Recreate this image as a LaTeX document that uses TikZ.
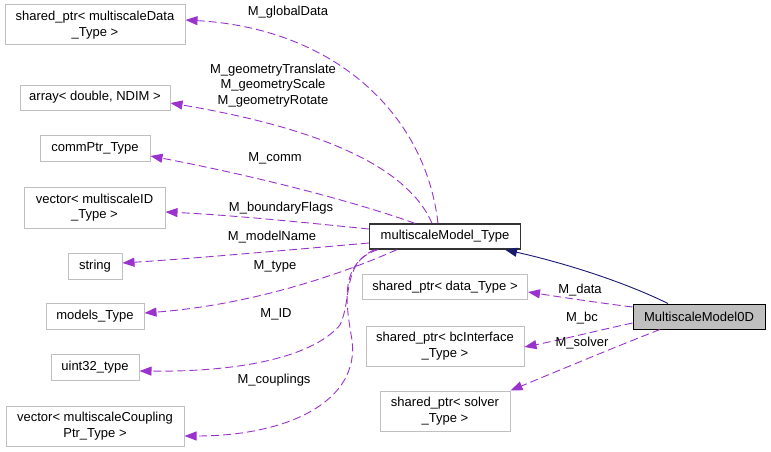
\documentclass[tikz,border=0pt]{standalone}
\usepackage{fontspec}
\setmainfont{Liberation Sans}
\usetikzlibrary{arrows.meta}
\definecolor{edgec}{HTML}{9A32CD}
\definecolor{boxgray}{HTML}{BFBFBF}
\definecolor{navyc}{HTML}{191970}
\begin{document}
\begin{tikzpicture}[x=1pt,y=-1pt,
  every node/.style={font=\fontsize{13}{15.5}\selectfont, inner sep=0pt, align=center},
  cls/.style={draw=boxgray, line width=1pt, fill=white},
  docbox/.style={draw=black!80, line width=1.2pt, fill=white},
  cur/.style={draw=black, line width=1pt, fill=boxgray},
  uses/.style={draw=edgec, line width=0.9pt, dash pattern=on 8pt off 4pt, -{Triangle[length=12pt,width=9pt]}},
  inh/.style={draw=navyc, line width=0.9pt, -{Triangle[length=12pt,width=9pt]}}
]
\useasboundingbox (0,0) rectangle (771,452);

% left column
\node[cls, minimum width=180pt, minimum height=40pt] (n1) at (95,25) {shared\_ptr< multiscaleData\\\_Type >};
\node[cls, minimum width=150pt, minimum height=25pt] (n2) at (95,97.5) {array< double, NDIM >};
\node[cls, minimum width=110pt, minimum height=26pt] (n3) at (95,148) {commPtr\_Type};
\node[cls, minimum width=141pt, minimum height=41pt] (n4) at (94.5,207.5) {vector< multiscaleID\\\_Type >};
\node[cls, minimum width=54pt, minimum height=26pt] (n5) at (95,266) {string};
\node[cls, minimum width=98pt, minimum height=26pt] (n6) at (95,316) {models\_Type};
\node[cls, minimum width=88pt, minimum height=26pt] (n7) at (95,367) {uint32\_type};
\node[cls, minimum width=178pt, minimum height=40pt] (n8) at (95,426) {vector< multiscaleCoupling\\Ptr\_Type >};

% middle column
\node[docbox, minimum width=151pt, minimum height=25pt] (base) at (445,236.5) {multiscaleModel\_Type};
\node[cls, minimum width=165pt, minimum height=25pt] (data) at (445,287) {shared\_ptr< data\_Type >};
\node[cls, minimum width=158pt, minimum height=40pt] (bc) at (445,346) {shared\_ptr< bcInterface\\\_Type >};
\node[cls, minimum width=130pt, minimum height=40pt] (solver) at (445,411) {shared\_ptr< solver\\\_Type >};

% current class
\node[cur, minimum width=132pt, minimum height=25pt] (main) at (699,316.5) {MultiscaleModel0D};

% edges from base
\draw[uses] ([xshift=-7pt]base.north) .. controls (425,110) and (330,28) .. ([yshift=5pt]n1.east);
\draw[uses] ([xshift=-13pt]base.north) .. controls (405,160) and (300,125) .. ([yshift=-5.5pt]n2.east);
\draw[uses] ([xshift=-30pt]base.north) .. controls (350,200) and (250,175) .. ([yshift=-8pt]n3.east);
\draw[uses] ([yshift=7.5pt]base.west) .. controls (300,222) and (230,215) .. ([yshift=-4.5pt]n4.east);
\draw[uses] ([yshift=-6.5pt]base.west) .. controls (300,249) and (200,258) .. ([yshift=3pt]n5.east);
\draw[uses] ([xshift=-48pt]base.south) .. controls (340,275) and (250,305) .. ([yshift=3pt]n6.east);
\draw[uses] ([xshift=-70pt]base.south) .. controls (342,263) and (352,300) .. (340,325) .. controls (310,360) and (230,372) .. ([yshift=-4pt]n7.east);
\draw[uses] ([xshift=-67pt]base.south) .. controls (340,262) and (345,300) .. (352,340) .. controls (360,400) and (290,436) .. ([yshift=-10pt]n8.east);

% edges from main
\draw[inh] ([xshift=-31pt]main.north) .. controls (620,280) and (560,262) .. ([xshift=60pt]base.south);
\draw[uses] ([yshift=9.5pt]main.west) .. controls (600,303) and (560,297) .. ([yshift=-5pt]data.east);
\draw[uses] ([yshift=-6.5pt]main.west) .. controls (600,330) and (560,340) .. ([yshift=-1pt]bc.east);
\draw[uses] ([xshift=-39pt]main.south) .. controls (620,345) and (560,370) .. (solver.north east);

% labels
\node (lglobal) at (288,12) {M\_globalData};
\node (lgeom) at (273,85.5) {M\_geometryTranslate\\M\_geometryScale\\M\_geometryRotate};
\node (lcomm) at (275,158) {M\_comm};
\node (lbound) at (281,208) {M\_boundaryFlags};
\node (lname) at (272,237) {M\_modelName};
\node (ltype) at (275,266) {M\_type};
\node (lid) at (276,314) {M\_ID};
\node (lcoup) at (274,380) {M\_couplings};
\node (ldata) at (580,290) {M\_data};
\node (lbc) at (582,318) {M\_bc};
\node (lsolver) at (582,343) {M\_solver};
\end{tikzpicture}
\end{document}
